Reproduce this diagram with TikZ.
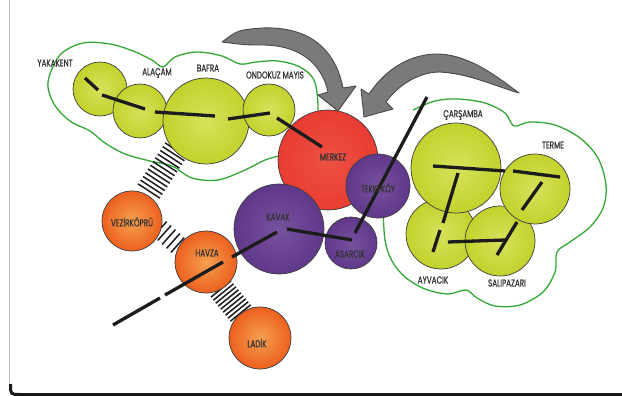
\documentclass[tikz,border=0pt]{standalone}
\usepackage{fontspec}
\newfontfamily\labfont[FakeStretch=0.72,FakeBold=0.8]{Poppins}
\usetikzlibrary{calc}
\definecolor{ggreen}{RGB}{194,210,44}
\definecolor{ggreenin}{RGB}{214,226,92}
\definecolor{rred}{RGB}{232,60,50}
\definecolor{rredin}{RGB}{238,80,68}
\definecolor{ppurple}{RGB}{96,56,138}
\definecolor{ppurplein}{RGB}{118,82,158}
\definecolor{oorange}{RGB}{236,96,30}
\definecolor{oorangein}{RGB}{246,160,80}
\definecolor{cloudgreen}{RGB}{52,168,52}
\definecolor{arrowgray}{RGB}{122,122,122}
\definecolor{ink}{RGB}{28,28,28}
\tikzset{
  town/.style={circle, inner sep=0pt, draw=ink!85, line width=0.7pt, minimum size=#1},
  gtown/.style={town=#1, inner color=ggreenin, outer color=ggreen},
  rtown/.style={town=#1, inner color=rredin, outer color=rred},
  ptown/.style={town=#1, inner color=ppurplein, outer color=ppurple},
  otown/.style={town=#1, inner color=oorangein, outer color=oorange},
  lab/.style={inner sep=0pt, text=ink!90, font=\labfont\fontsize{10}{10}\selectfont},
  seg/.style={draw=ink, line width=3.3pt},
  hatch/.style={draw=ink, line width=1.5pt},
  cloud/.style={draw=cloudgreen, line width=1.3pt},
  bigarrow/.style={fill=arrowgray, draw=ink!80, line width=0.9pt, line join=round},
}
\newcommand\hatchband[5]{%
  \foreach \i in {0,...,#3}{%
    \draw[hatch] ($(#1)!\i/#3!(#2) + (#4:#5)$) -- ($(#1)!\i/#3!(#2) - (#4:#5)$);
  }}
\begin{document}
\begin{tikzpicture}[x=1pt,y=-1pt]
\useasboundingbox (0,0) rectangle (622,396);
\fill[white] (0,0) rectangle (622,396);
% frame
\draw[line width=0.7pt, black!25] (9.5,0) -- (9.5,384);
\draw[line width=3pt, black!90] (10.5,384) .. controls (10.5,394.5) .. (20,394.5) -- (622,394.5);

% clouds
\draw[cloud] plot[smooth cycle, tension=0.55] coordinates {
  (48,82) (60,55) (83,43) (110,44) (133,51) (152,60) (163,67) (175,57) (197,52)
  (222,56) (240,64) (256,62) (278,61) (300,67) (314,80) (318,105) (316,130)
  (305,145) (285,154) (265,160) (245,170) (218,180) (192,178) (172,166)
  (150,161) (125,154) (105,143) (90,131) (70,121) (54,104)};
\draw[cloud] plot[smooth, tension=0.55] coordinates {
  (413,110) (435,101) (458,99) (485,103) (505,113) (514,126) (530,122)
  (555,125) (580,138) (598,158) (606,185) (603,208) (590,227) (570,242)
  (557,252) (555,272) (543,292) (520,305) (495,306) (477,298) (466,290)
  (448,294) (425,289) (405,277) (392,261) (385,240) (383,207)};

% arrows
\draw[bigarrow] (222,42) .. controls (238,30) .. (262,28)
  .. controls (312,26) and (336,52) .. (343,88) -- (356,86) -- (338,111)
  -- (318,95) -- (328,92) .. controls (322,64) and (300,45) .. (262,45)
  .. controls (246,45) .. (222,42) -- cycle;
\draw[bigarrow] (369,94) .. controls (385,70) and (410,53) .. (440,54)
  .. controls (470,56) and (495,75) .. (519,93)
  .. controls (492,85) and (470,74) .. (440,72)
  .. controls (416,72) and (396,88) .. (386,102) -- (393,109) -- (364,117)
  -- (361,89) -- cycle;

% hatched links
\coordinate (hb1a) at (176,150); \coordinate (hb1b) at (149,191);
\coordinate (hb2a) at (160,229); \coordinate (hb2b) at (182,249);
\coordinate (hb3a) at (221,289); \coordinate (hb3b) at (243,316);
\hatchband{hb1a}{hb1b}{11}{33}{13}
\hatchband{hb2a}{hb2b}{5}{-48}{10}
\hatchband{hb3a}{hb3b}{9}{-39}{13}

% towns
\node[gtown=54pt] (yak) at (100,89) {};
\node[gtown=54pt] (ala) at (140,111) {};
\node[gtown=86pt] (baf) at (206,121) {};
\node[gtown=52pt] (ond) at (269,110) {};
\node[rtown=100pt] (mer) at (328,160) {};
\node[ptown=64pt] (tek) at (378,186) {};
\node[ptown=90pt] (kav) at (279,229) {};
\node[ptown=52pt] (asa) at (351,243) {};
\node[otown=60pt] (vez) at (132,221) {};
\node[otown=62pt] (hav) at (206,262) {};
\node[otown=62pt] (lad) at (260,338) {};
\node[gtown=70pt] (ayv) at (441,234) {};
\node[gtown=70pt] (sal) at (500,241) {};
\node[gtown=90pt] (car) at (456,168) {};
\node[gtown=70pt] (ter) at (535,189) {};

% road segments
\coordinate (l1a) at (85,78);   \coordinate (l1b) at (98,90);
\coordinate (l2a) at (102,95);  \coordinate (l2b) at (145,109);
\coordinate (l3a) at (155,112); \coordinate (l3b) at (215,116);
\coordinate (l4a) at (228,119); \coordinate (l4b) at (270,113);
\coordinate (l5a) at (277,118); \coordinate (l5b) at (322,147);
\coordinate (k1a) at (232,257); \coordinate (k1b) at (277,232);
\coordinate (k2a) at (287,229); \coordinate (k2b) at (352,240);
\coordinate (t1a) at (355,233); \coordinate (t1b) at (427,97);
\coordinate (h1a) at (223,262); \coordinate (h1b) at (165,295);
\coordinate (h2a) at (160,298); \coordinate (h2b) at (113,325);
\coordinate (e1a) at (433,166); \coordinate (e1b) at (505,171);
\coordinate (e2a) at (513,171); \coordinate (e2b) at (560,177);
\coordinate (e3a) at (458,173); \coordinate (e3b) at (443,223);
\coordinate (e4a) at (440,230); \coordinate (e4b) at (433,252);
\coordinate (e5a) at (542,182); \coordinate (e5b) at (522,210);
\coordinate (e6a) at (448,242); \coordinate (e6b) at (505,240);
\coordinate (e7a) at (517,222); \coordinate (e7b) at (497,255);
\foreach \s in {l1,l2,l3,l4,l5,k1,k2,t1,h1,h2,e1,e2,e3,e4,e5,e6,e7}
  \draw[seg] (\s a) -- (\s b);

% labels
\node[lab] (tyak) at (55,63) {YAKAKENT};
\node[lab] (tala) at (157,73) {ALAÇAM};
\node[lab] (tbaf) at (208,68) {BAFRA};
\node[lab] (tond) at (275,75) {ONDOKUZ MAYIS};
\node[lab] (tmer) at (333,157) {MERKEZ};
\node[lab] (ttek) at (378,188) {TEKKEKÖY};
\node[lab] (tkav) at (278,217) {KAVAK};
\node[lab] (tasa) at (350,254) {ASARCIK};
\node[lab] (tvez) at (132,222) {VEZİRKÖPRÜ};
\node[lab] (thav) at (207,253) {HAVZA};
\node[lab] (tlad) at (257,343) {LADİK};
\node[lab] (tcar) at (463,115) {ÇARŞAMBA};
\node[lab] (tter) at (553,145) {TERME};
\node[lab] (tayv) at (433,280) {AYVACIK};
\node[lab] (tsal) at (507,283) {SALIPAZARI};
\end{tikzpicture}
\end{document}
